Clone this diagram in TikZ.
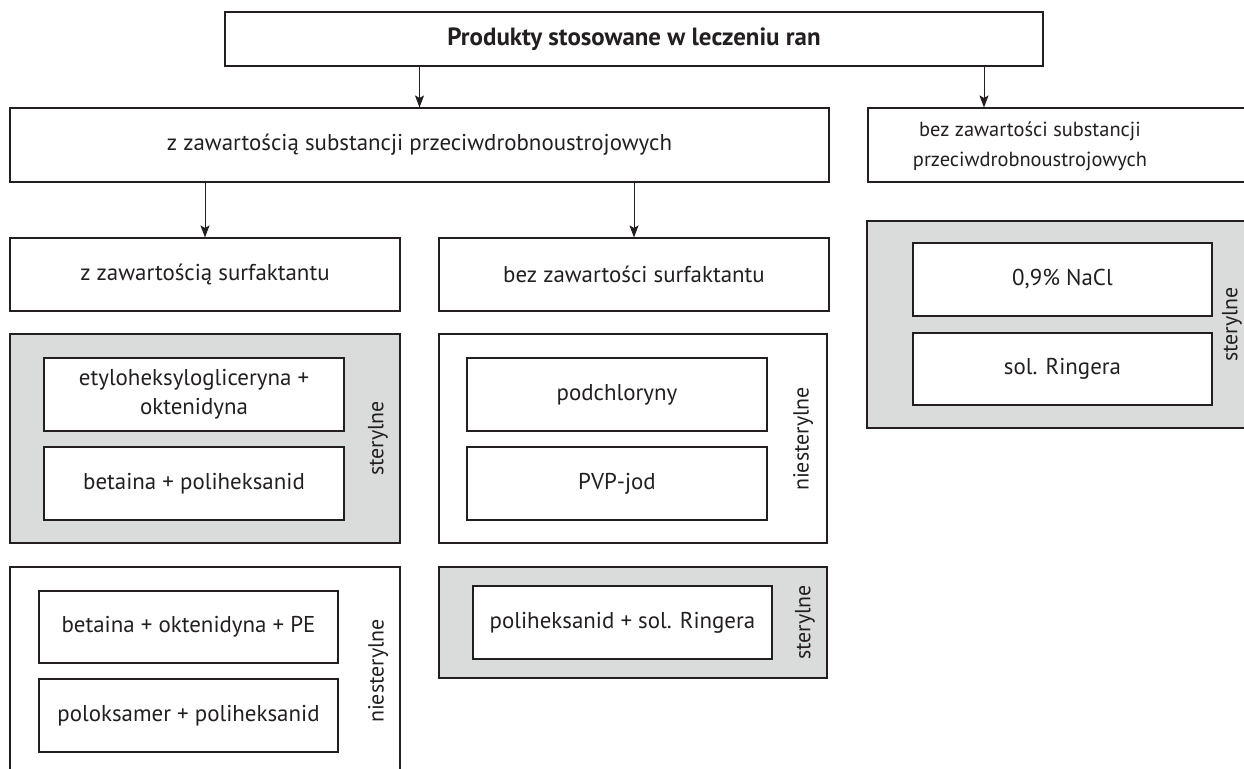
\documentclass[tikz,border=0pt]{standalone}
\usepackage{fontspec}
\setmainfont{PT Sans}
\usetikzlibrary{arrows.meta}
\definecolor{ln}{RGB}{35,31,32}
\definecolor{gfill}{RGB}{217,220,219}
\tikzset{
  box/.style={draw=ln, line width=1.1bp, fill=white, inner sep=0pt, align=center,
    font=\fontsize{23}{29}\selectfont, text=ln},
  grp/.style={draw=ln, line width=1.1bp, inner sep=0pt},
  lbl/.style={rotate=90, inner sep=0pt, font=\fontsize{22}{26}\selectfont, text=ln},
  arr/.style={draw=ln, line width=1bp, -{Stealth[length=12bp,width=9bp,inset=2.5bp]}}
}
\begin{document}
\begin{tikzpicture}[x=1bp,y=-1bp]
\path[use as bounding box, clip] (0,0) rectangle (1244,769);
\fill[white] (0,0) rectangle (1244,769);
% top level
\node[box, minimum width=818bp, minimum height=54bp, font=\fontsize{25}{29}\selectfont\bfseries] (top) at (634,39) {Produkty stosowane w leczeniu ran};
\node[box, minimum width=819bp, minimum height=74bp] (sub1) at (419.5,145) {z zawartością substancji przeciwdrobnoustrojowych};
\node[box, minimum width=400bp, minimum height=74bp] (sub2) at (1068,145) {};
\node[inner sep=0pt, align=center, font=\fontsize{20.5}{30}\selectfont, text=ln] (sub2t) at (1030,146) {bez zawartości substancji\\przeciwdrobnoustrojowych};
\coordinate (a2) at (984,0);
\draw[arr] (top.south -| sub1.north) -- (sub1.north);
\draw[arr] (top.south -| a2) -- (sub2.north -| a2);
% second level
\node[box, minimum width=390bp, minimum height=73bp] (s1) at (205,274.5) {z zawartością surfaktantu};
\node[box, minimum width=390bp, minimum height=73bp] (s2) at (634,274.5) {bez zawartości surfaktantu};
\draw[arr] (sub1.south -| s1.north) -- (s1.north);
\draw[arr] (sub1.south -| s2.north) -- (s2.north);
% group 1 (sterile, surfactant)
\node[grp, fill=gfill, minimum width=390bp, minimum height=209bp] (g1) at (205,438.5) {};
\node[box, minimum width=300bp, minimum height=73bp] (a) at (194,394.5) {etyloheksylogliceryna +\\oktenidyna};
\node[box, minimum width=300bp, minimum height=73bp] (b) at (194,483.5) {betaina + poliheksanid};
\node[lbl] (g1l) at (378,438.5) {sterylne};
% group 2 (non-sterile, surfactant)
\node[grp, fill=white, minimum width=390bp, minimum height=208bp] (g2) at (205,671) {};
\node[box, minimum width=299bp, minimum height=72bp] (c) at (188.5,627) {betaina + oktenidyna + PE};
\node[box, minimum width=299bp, minimum height=73bp] (d) at (188.5,715.5) {poloksamer + poliheksanid};
\node[lbl] (g2l) at (378,671) {niesterylne};
% group 3 (non-sterile, no surfactant)
\node[grp, fill=white, minimum width=388bp, minimum height=209bp] (g3) at (633,438.5) {};
\node[box, minimum width=300bp, minimum height=73bp] (e) at (617,394.5) {podchloryny};
\node[box, minimum width=300bp, minimum height=73bp] (f) at (617,483.5) {PVP-jod};
\node[lbl] (g3l) at (803,439) {niesterylne};
% group 4 (sterile, no surfactant)
\node[grp, fill=gfill, minimum width=388bp, minimum height=111bp] (g4) at (633,622.5) {};
\node[box, minimum width=299bp, minimum height=73bp] (g) at (622.5,622.5) {poliheksanid + sol. Ringera};
\node[lbl] (g4l) at (805,622.5) {sterylne};
% group 5 (sterile, no antimicrobials)
\node[grp, fill=gfill, minimum width=400bp, minimum height=207bp] (g5) at (1067,324.5) {};
\node[box, minimum width=299bp, minimum height=73bp] (h) at (1062.5,279.5) {0,9\% NaCl};
\node[box, minimum width=299bp, minimum height=72bp] (i) at (1062.5,369) {sol. Ringera};
\node[lbl] (g5l) at (1232,324.5) {sterylne};
\end{tikzpicture}
\end{document}
